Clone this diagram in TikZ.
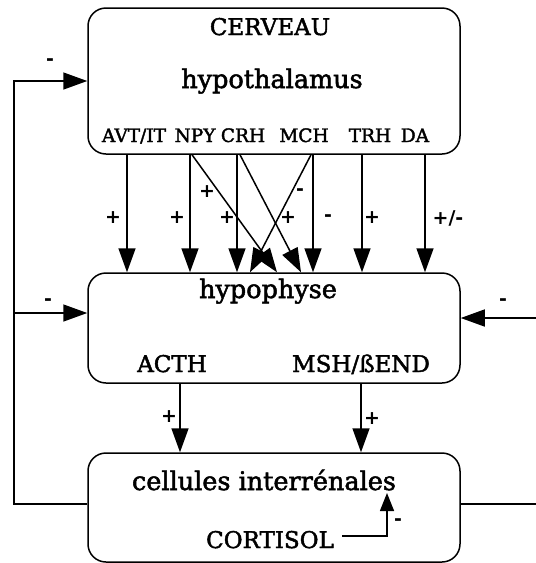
\documentclass[tikz,border=0pt]{standalone}
\usepackage{fontspec}
\setmainfont{DejaVu Serif}[FakeBold=2]
\setsansfont{DejaVu Sans}
\usetikzlibrary{arrows.meta,positioning}

\begin{document}
\begin{tikzpicture}[x=1pt,y=-1pt]
\tikzset{
  organ/.style={draw,line width=1.5pt,rounded corners=18pt,minimum width=372pt,inner sep=0pt},
  title/.style={anchor=base,inner sep=0pt,font=\fontsize{23}{26}\selectfont},
  organtext/.style={anchor=base,inner sep=0pt,font=\fontsize{25.5}{28}\selectfont},
  hormone/.style={anchor=base,inner sep=0pt,font=\fontsize{18.5}{21}\selectfont},
  sign/.style={inner sep=0pt,font=\sffamily\bfseries\fontsize{19}{19}\selectfont},
  link/.style={line width=1.5pt,-{Triangle[length=24pt,width=17pt]}}
}
\useasboundingbox (0,0) rectangle (536,563);
\clip (0,0) rectangle (536,563);
% boxes
\node[organ,minimum height=146pt] (brain) at (274,81) {};
\node[organ,minimum height=110pt] (pit) at (274,328) {};
\node[organ,minimum height=109pt] (cells) at (274,507.5) {};
% texts
\node[title] (t_cerveau) at (270,35) {CERVEAU};
\node[organtext] (t_hypo) at (272,88) {hypothalamus};
\node[hormone] (h_avt) at (134,142) {AVT/IT};
\node[hormone] (h_npy) at (195,142) {NPY};
\node[hormone] (h_crh) at (243,142) {CRH};
\node[hormone] (h_mch) at (304,142) {MCH};
\node[hormone] (h_trh) at (370,142) {TRH};
\node[hormone] (h_da) at (415,142) {DA};
\node[organtext] (t_pit) at (268,298) {hypophyse};
\node[title] (t_acth) at (172,372) {ACTH};
\node[title] (t_msh) at (361,372) {MSH/ßEND};
\node[organtext] (t_cells) at (264,490) {cellules interrénales};
\node[title] (t_cort) at (270,548) {CORTISOL};
% hypothalamus -> hypophyse
\foreach \xs/\xe in {127/127,190/190,237/237,313/313,362/362,425/425,192/277,240/301,311/250}
  \draw[link] (\xs,0 |- brain.south) -- (\xe,0 |- pit.north);
% hypophyse -> interrenales
\draw[link] (180,0 |- pit.south) -- (180,0 |- cells.north);
\draw[link] (361,0 |- pit.south) -- (361,0 |- cells.north);
% feedback
\coordinate (loopL) at (14,504);
\coordinate (tapL) at (14,313);
\coordinate (loopR) at (540,504);
\coordinate (tapR) at (540,318);
\coordinate (cortTip) at (387,493);
\draw[link] (cells.west |- loopL) -- (loopL) |- (brain.west);
\draw[link] (tapL) -- (pit.west |- tapL);
\draw[link] (cells.east |- loopR) -- (loopR) -- (tapR) -- (pit.east |- tapR);
\draw[link,-{Triangle[length=18pt,width=14pt]}] ([xshift=8pt,yshift=12pt]t_cort.base east) -| (cortTip);
% signs
\foreach \px/\py/\sg in {113/218/+,177/218/+,207/192/+,227/218/+,288/218/+,300/192/-,
    328/218/-,372/218/+,448/218/{+/-},169/417/+,372/419/+,50/62/-,48/302/-,503/302/-,398/522/-}
  \node[sign] at (\px,\py) {\sg};
\end{tikzpicture}
\end{document}
